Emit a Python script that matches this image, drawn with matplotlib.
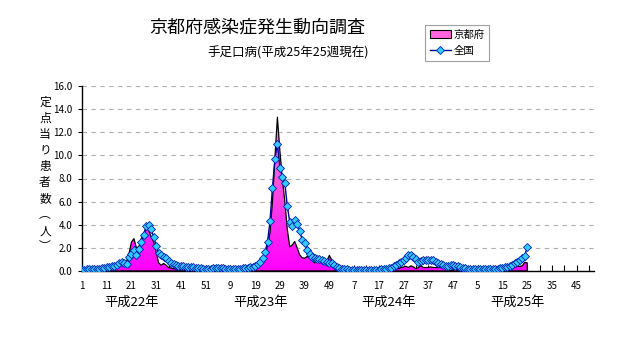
import numpy as np
import matplotlib
matplotlib.use('Agg')
import matplotlib.pyplot as plt
from matplotlib.colors import LinearSegmentedColormap
from matplotlib.patches import Patch
from matplotlib.lines import Line2D

plt.rcParams['font.family'] = ['Noto Sans CJK JP', 'DejaVu Sans']

# labels
title = '京都府感染症発生動向調査'
subtitle = '手足口病(平成25年25週現在)'
ylabel_chars = ['定', '点', '当', 'り', '患', '者', '数', '︵', '人', '︶']
year_labels = ['平成22年', '平成23年', '平成24年', '平成25年']
weeks_per_year = 52

# 定点当り患者数 - Kyoto (weekly, H22 w1 .. H25 w25)
kyoto_h22 = [0.05, 0.05, 0.05, 0.08, 0.05, 0.1, 0.1, 0.1, 0.15, 0.2,
             0.2, 0.25, 0.3, 0.3, 0.4, 0.5, 0.6, 0.7, 0.8, 1.5,
             2.5, 2.8, 2.0, 2.1, 2.8, 3.3, 3.8, 3.5, 2.95, 2.5,
             1.6, 0.7, 0.5, 0.65, 0.5, 0.3, 0.25, 0.2, 0.15, 0.1,
             0.1, 0.08, 0.05, 0.05, 0.05, 0.05, 0.05, 0.05, 0.05, 0.05,
             0.03, 0.03]
kyoto_h23 = [0.05, 0.05, 0.05, 0.05, 0.05, 0.05, 0.05, 0.05, 0.05, 0.05,
             0.05, 0.05, 0.05, 0.05, 0.05, 0.08, 0.1, 0.1, 0.15, 0.25,
             0.45, 0.8, 1.3, 2.2, 3.3, 6.0, 9.8, 13.3, 10.4, 8.0,
             6.0, 3.6, 2.1, 2.25, 2.55, 2.0, 1.4, 1.15, 1.1, 1.25,
             1.15, 0.9, 0.7, 0.85, 1.0, 0.75, 0.6, 0.85, 1.35, 0.95,
             0.7, 0.3]
kyoto_h24 = [0.3, 0.4, 0.2, 0.05, 0.03, 0.03, 0.03, 0.03, 0.03, 0.03,
             0.03, 0.03, 0.03, 0.03, 0.03, 0.03, 0.03, 0.03, 0.03, 0.03,
             0.03, 0.1, 0.2, 0.25, 0.2, 0.3, 0.35, 0.4, 0.3, 0.45,
             0.35, 0.2, 0.3, 0.45, 0.3, 0.3, 0.3, 0.35, 0.3, 0.3,
             0.3, 0.35, 0.45, 0.25, 0.1, 0.05, 0.1, 0.15, 0.1, 0.05,
             0.03, 0.03]
kyoto_h25 = [0.02, 0.02, 0.02, 0.02, 0.02, 0.02, 0.02, 0.02, 0.02, 0.02,
             0.02, 0.02, 0.02, 0.02, 0.02, 0.02, 0.02, 0.1, 0.3, 0.35,
             0.4, 0.4, 0.45, 0.75, 0.7]

# 全国
zenkoku_h22 = [0.1, 0.12, 0.14, 0.15, 0.15, 0.16, 0.17, 0.2, 0.24, 0.3,
               0.35, 0.38, 0.4, 0.47, 0.55, 0.7, 0.78, 0.72, 0.6, 1.2,
               1.5, 1.8, 1.4, 1.9, 2.5, 3.1, 3.85, 3.95, 3.6, 2.9,
               2.2, 1.55, 1.35, 1.2, 1.1, 0.85, 0.68, 0.58, 0.5, 0.46,
               0.42, 0.4, 0.38, 0.36, 0.34, 0.32, 0.3, 0.27, 0.24, 0.18,
               0.17, 0.2]
zenkoku_h23 = [0.2, 0.22, 0.25, 0.25, 0.25, 0.23, 0.2, 0.2, 0.2, 0.2,
               0.19, 0.2, 0.2, 0.22, 0.25, 0.28, 0.33, 0.37, 0.45, 0.6,
               0.8, 1.1, 1.67, 2.5, 4.3, 7.2, 9.7, 11.0, 8.9, 8.15,
               7.6, 5.6, 4.25, 3.9, 4.4, 4.1, 3.5, 2.7, 2.45, 1.8,
               1.5, 1.25, 1.12, 1.05, 1.0, 0.93, 0.87, 0.8, 0.73, 0.65,
               0.55, 0.35]
zenkoku_h24 = [0.25, 0.2, 0.17, 0.14, 0.12, 0.11, 0.1, 0.1, 0.1, 0.1,
               0.1, 0.1, 0.1, 0.1, 0.1, 0.1, 0.12, 0.14, 0.17, 0.2,
               0.25, 0.3, 0.4, 0.5, 0.65, 0.8, 0.95, 1.15, 1.35, 1.38,
               1.2, 1.0, 0.78, 0.85, 0.92, 0.98, 0.92, 0.95, 0.95, 0.8,
               0.65, 0.58, 0.52, 0.47, 0.47, 0.5, 0.5, 0.45, 0.4, 0.35,
               0.27, 0.22]
zenkoku_h25 = [0.2, 0.19, 0.18, 0.18, 0.18, 0.17, 0.18, 0.18, 0.18, 0.19,
               0.19, 0.2, 0.2, 0.22, 0.27, 0.32, 0.38, 0.45, 0.55, 0.65,
               0.8, 0.95, 1.1, 1.3, 2.1]

kyoto = np.array(kyoto_h22 + kyoto_h23 + kyoto_h24 + kyoto_h25)
zenkoku = np.array(zenkoku_h22 + zenkoku_h23 + zenkoku_h24 + zenkoku_h25)
n_total = weeks_per_year * len(year_labels)
x = np.arange(len(kyoto))

fig = plt.figure(figsize=(6.32, 3.48), dpi=100)
ax = fig.add_axes([82 / 632, 1 - 271 / 348, 512 / 632, 185 / 348])

# area with gradient fill
poly = ax.fill_between(x, kyoto, 0, facecolor='none', edgecolor='black', lw=0.9, zorder=3)
cmap = LinearSegmentedColormap.from_list('pink', ['#FF00FF', '#FF55DD', '#FFA0D8'])
grad = np.linspace(0, 1, 256).reshape(-1, 1)
im = ax.imshow(grad, extent=[0, n_total - 1, 0, 16], origin='lower', aspect='auto',
               cmap=cmap, zorder=2)
im.set_clip_path(poly.get_paths()[0], transform=ax.transData)

ax.plot(x, zenkoku, color='#000090', lw=1.0, marker='D', markersize=3.8,
        markerfacecolor='#33CCFF', markeredgecolor='#0020B0', markeredgewidth=0.6, zorder=4)

ax.set_xlim(0, n_total - 1)
ax.set_ylim(0, 16)
ax.set_yticks(np.arange(0, 17, 2))
ax.set_yticklabels([f'{v:.1f}' for v in np.arange(0, 17, 2)])
ax.yaxis.grid(True, linestyle=(0, (4, 4)), color='#B0B0B0', lw=0.8)
ax.set_axisbelow(True)

major = np.arange(0, n_total, 10)
ax.set_xticks(major)
ax.set_xticklabels([str(i % weeks_per_year + 1) for i in major])
ax.set_xticks(np.arange(5, n_total, 10), minor=True)
ax.tick_params(axis='x', which='both', direction='in', length=4, width=0.8, labelsize=7, pad=7)
ax.tick_params(axis='y', direction='out', length=3, width=0.8, labelsize=7, pad=4)

for s in ['top', 'right']:
    ax.spines[s].set_visible(False)
for s in ['left', 'bottom']:
    ax.spines[s].set_linewidth(1.0)
    ax.spines[s].set_color('black')

# year labels under axis
for k, lab in enumerate(year_labels):
    ax.text(k * weeks_per_year + 20, -0.17, lab, transform=ax.get_xaxis_transform(),
            ha='center', va='center', fontsize=9.5)

fig.text(257 / 632, 1 - 27 / 348, title, ha='center', va='center', fontsize=13)
fig.text(288 / 632, 1 - 53 / 348, subtitle, ha='center', va='center', fontsize=9)

for k, ch in enumerate(ylabel_chars):
    fig.text(45 / 632, 1 - (102 + 16.1 * k) / 348, ch, ha='center', va='center', fontsize=8.5)

handles = [Patch(facecolor='#FF66DD', edgecolor='black', lw=0.8),
           Line2D([], [], color='#000090', lw=1.0, marker='D', markersize=3.8,
                  markerfacecolor='#33CCFF', markeredgecolor='#0020B0', markeredgewidth=0.6)]
leg = fig.legend(handles, ['京都府', '全国'], loc='upper left',
                 bbox_to_anchor=(425 / 632, 1 - 25 / 348), fontsize=7.5,
                 frameon=True, fancybox=False, edgecolor='#A0A0A0', framealpha=1,
                 handlelength=2.0, handleheight=0.8, handletextpad=0.3,
                 borderpad=0.45, labelspacing=0.6, borderaxespad=0)
leg.get_frame().set_linewidth(0.8)

plt.savefig('out.png', dpi=100)
